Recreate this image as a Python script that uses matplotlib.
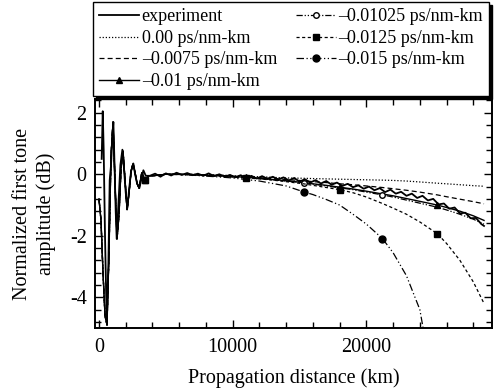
import matplotlib
matplotlib.use("Agg")
import matplotlib.pyplot as plt
from matplotlib.ticker import MultipleLocator

plt.rcParams['font.family'] = ['Liberation Serif', 'DejaVu Serif']
plt.rcParams['axes.unicode_minus'] = False

# common distance grid for the simulated curves (km)
x_sim = [0, 150, 300, 450, 600, 750, 900, 1050, 1200, 1350, 1500, 1650, 1800,
         1950, 2100, 2250, 2400, 2550, 2700, 2850, 3000, 3200, 3450, 3700, 4000,
         5000, 6000, 7000, 8000, 9400, 10000, 11000, 12000, 13000, 14000, 15300,
         16000, 17000, 18000, 19000, 20000, 21200, 22000, 23000, 24000, 25300,
         26000, 27000, 28000, 28800]

# first ~4000 km, same ringing for all simulations (dB)
sim_start = [-0.8, -1.5, -3.2, -4.6, -4.9, -2.5, 0.6, 1.7, -0.3, -2.1, -1.3, 0.2,
             0.75, -0.2, -1.15, -0.6, 0.1, 0.35, 0.05, -0.3, -0.45, 0.05, -0.2,
             -0.05, -0.05]

sim_d000 = sim_start + [0.0, 0.0, 0.0, -0.02, -0.03, -0.05, -0.07, -0.08, -0.1, -0.12,
                        -0.13, -0.14, -0.15, -0.16, -0.17, -0.18, -0.19, -0.2, -0.22,
                        -0.25, -0.29, -0.31, -0.34, -0.37, -0.39]
sim_d0075 = sim_start + [0.0, 0.0, -0.01, -0.02, -0.04, -0.06, -0.09, -0.11, -0.14,
                         -0.17, -0.21, -0.24, -0.27, -0.31, -0.34, -0.38, -0.43, -0.47,
                         -0.52, -0.58, -0.67, -0.73, -0.81, -0.89, -0.96]
sim_d01 = sim_start + [0.0, 0.0, -0.01, -0.03, -0.05, -0.07, -0.1, -0.13, -0.17, -0.21,
                       -0.27, -0.31, -0.36, -0.42, -0.48, -0.55, -0.64, -0.7, -0.79,
                       -0.88, -1.0, -1.08, -1.2, -1.35, -1.5]
sim_d01025 = sim_start + [0.0, 0.0, -0.01, -0.03, -0.05, -0.08, -0.11, -0.14, -0.18,
                          -0.22, -0.28, -0.32, -0.38, -0.44, -0.5, -0.58, -0.67, -0.74,
                          -0.84, -0.94, -1.07, -1.16, -1.3, -1.46, -1.62]
sim_d0125 = sim_start + [0.0, -0.01, -0.02, -0.04, -0.07, -0.09, -0.12, -0.15, -0.19,
                         -0.24, -0.31, -0.36, -0.43, -0.5, -0.6, -0.74, -0.95, -1.1,
                         -1.3, -1.55, -1.93, -2.25, -2.8, -3.5, -4.2]
sim_d015 = sim_start + [0.0, -0.01, -0.03, -0.06, -0.1, -0.12, -0.17, -0.22, -0.3,
                        -0.38, -0.57, -0.66, -0.82, -1.0, -1.3, -1.62, -2.09, -2.55,
                        -3.3, -4.4, -7.6, -9.5, -12.0, -15.0, -17.0]

# measured trace
x_exp = [200, 280, 350, 450, 575, 700, 800, 900, 1000, 1075, 1150, 1250, 1325, 1450,
         1600, 1750, 1850, 2000, 2120, 2250, 2400, 2570, 2700, 2850, 3020, 3150, 3320,
         3500, 3800, 4200, 4600, 5000, 5400, 5800, 6200, 6600, 7000, 7400, 7800, 8200,
         8600, 9000, 9400, 9800, 10200, 10600, 11000, 11400, 11800, 12200, 12600,
         13000, 13400, 13800, 14200, 14600, 15000, 15400, 15800, 16200, 16600, 17000,
         17400, 17800, 18200, 18600, 19000, 19400, 19800, 20200, 20600, 21000, 21400,
         21800, 22200, 22600, 23000, 23400, 23800, 24200, 24600, 25000, 25400, 25800,
         26200, 26600, 27000, 27400, 27800, 28200, 28600, 28800]
y_exp = [0.5, 2.05, 0.8, -2.0, -4.75, -3.0, -0.2, 0.3, 1.2, 1.7, 0.5, -1.2, -2.1, -1.0,
         0.3, 0.8, 0.3, -0.6, -1.1, -0.5, 0.1, 0.35, 0.0, -0.3, -0.45, -0.2, 0.13,
         -0.05, -0.05, 0.02, -0.08, 0.03, -0.04, 0.05, -0.02, 0.04, -0.03, 0.02, -0.05,
         0.03, -0.06, 0.0, -0.08, -0.02, -0.1, -0.03, -0.12, -0.05, -0.14, -0.06, -0.15,
         -0.08, -0.17, -0.1, -0.2, -0.12, -0.24, -0.16, -0.27, -0.19, -0.3, -0.22,
         -0.34, -0.27, -0.38, -0.31, -0.42, -0.36, -0.47, -0.4, -0.52, -0.45, -0.58,
         -0.5, -0.63, -0.57, -0.7, -0.63, -0.77, -0.7, -0.85, -0.8, -0.98, -0.95, -1.12,
         -1.08, -1.27, -1.25, -1.43, -1.42, -1.62, -1.68]

fig = plt.figure(figsize=(4.96, 3.91), dpi=100)
ax = fig.add_axes([0.1915, 0.161, 0.8005, 0.586])

h_exp, = ax.plot(x_exp, y_exp, color='black', lw=1.3, label='experiment', zorder=5)
h0, = ax.plot(x_sim, sim_d000, color='black', lw=0.9, dashes=(1, 1.5),
              label='0.00 ps/nm-km')
h1, = ax.plot(x_sim, sim_d0075, color='black', lw=0.9, dashes=(4, 2.5),
              label='\u20130.0075 ps/nm-km')
h2, = ax.plot(x_sim, sim_d01, color='black', lw=1.0, marker='^', ms=5,
              markevery=[22, 31, 38, 45], label='\u20130.01 ps/nm-km')
h3, = ax.plot(x_sim, sim_d01025, color='black', lw=0.9, dashes=(5, 1.5, 1, 1.5, 1, 1.5),
              marker='o', ms=4, mfc='white', markevery=[22, 35, 41],
              label='\u20130.01025 ps/nm-km')
h4, = ax.plot(x_sim, sim_d0125, color='black', lw=0.9, dashes=(2.5, 2),
              marker='s', ms=5, markevery=[22, 31, 38, 45],
              label='\u20130.0125 ps/nm-km')
h5, = ax.plot(x_sim, sim_d015, color='black', lw=0.9, dashes=(6, 2, 1, 2, 1, 2),
              marker='o', ms=5, markevery=[35, 41],
              label='\u20130.015 ps/nm-km')

ax.set_xlim(-300, 29400)
ax.set_ylim(-5.0, 2.45)
ax.xaxis.set_major_locator(MultipleLocator(10000))
ax.xaxis.set_minor_locator(MultipleLocator(2000))
ax.yaxis.set_major_locator(MultipleLocator(2))
ax.yaxis.set_minor_locator(MultipleLocator(0.4))
ax.tick_params(which='both', direction='in', top=True, right=True, labelsize=14.5,
               width=1.0)
ax.tick_params(which='major', length=6)
ax.tick_params(which='minor', length=4)
ax.tick_params(axis='x', pad=7)
ax.tick_params(axis='y', pad=6)
for sp in ax.spines.values():
    sp.set_linewidth(1.4)

ax.set_xlabel('Propagation distance (km)', fontsize=14.5, labelpad=8)
ax.set_ylabel('Normalized first tone\namplitude (dB)', fontsize=14.5, labelpad=10,
              linespacing=1.25)

handles = [h_exp, h0, h1, h2, h3, h4, h5]
leg = fig.legend(handles=handles, loc='upper left', ncol=2,
                 bbox_to_anchor=(93 / 496, 1 - 2 / 391), borderaxespad=0,
                 fontsize=13, frameon=True, fancybox=False, edgecolor='black',
                 handlelength=2.2, handletextpad=0.15, columnspacing=1.05,
                 labelspacing=0.25, borderpad=0.35,
                 shadow={'color': 'black', 'alpha': 1.0})
leg.get_frame().set_linewidth(1.0)

fig.savefig('out.png', dpi=100)
